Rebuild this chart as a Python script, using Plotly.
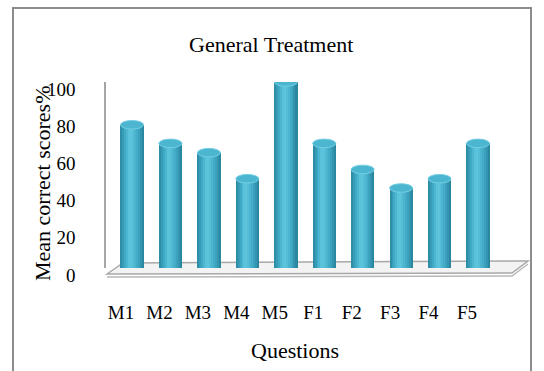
import plotly.graph_objects as go

# Mean correct scores (%) per question
questions = ["M1", "M2", "M3", "M4", "M5", "F1", "F2", "F3", "F4", "F5"]
scores = [77, 67, 62, 48, 100, 67, 53, 43, 48, 67]
y_ticks = [0, 20, 40, 60, 80, 100]

W, H = 544, 371
L, R, T, B = 106, 512, 82, 268          # plot area in pixels
SERIF = "Liberation Serif, Times New Roman, serif"

def px_x(p):
    return (p - L) / (R - L)

def px_y(p):
    return (B - p) / (B - T)

# colour profile across a cylinder, left edge -> right edge
shade = ["#2E8DA7", "#379CB7", "#40A9C5", "#4DB6D1", "#5AC1DA", "#5EC4DD",
         "#56BDD7", "#4CB4CF", "#44ACC8", "#3CA1BD", "#3395B0", "#2B86A0"]
bar_w = 0.6
stripe = bar_w / len(shade)

fig = go.Figure()
for k, col in enumerate(shade):
    fig.add_trace(go.Bar(
        x=questions, y=scores,
        width=stripe * 1.15, offset=-bar_w / 2 + k * stripe,
        marker=dict(color=col, line=dict(width=0)),
        hoverinfo="skip", showlegend=False,
    ))

shapes = []

def pt(x, y):
    return f"{px_x(x):.5f},{px_y(y):.5f}"

# floor slab
floor = f"M {pt(107, 274)} L {pt(123, 263)} L {pt(528, 261)} L {pt(512, 273)} Z"
shapes.append(dict(type="path", path=floor, xref="paper", yref="paper",
                   fillcolor="#F3F3F3", line=dict(color="#A8A8A8", width=1.5),
                   layer="below"))
slab = f"M {pt(107, 277)} L {pt(512, 276)} L {pt(528, 264)}"
shapes.append(dict(type="path", path=slab, xref="paper", yref="paper",
                   line=dict(color="#B8B8B8", width=1.5), layer="below"))

cap = 2.3   # half-height of the elliptical ends, in data units
for i, v in enumerate(scores):
    # rounded base
    shapes.append(dict(type="circle", xref="x", yref="y",
                       x0=i - bar_w / 2, x1=i + bar_w / 2, y0=-cap, y1=cap,
                       fillcolor="#3AA2BE", line=dict(width=0), layer="below"))
    # top cap
    shapes.append(dict(type="circle", xref="x", yref="y",
                       x0=i - bar_w / 2, x1=i + bar_w / 2, y0=v - cap, y1=v + cap,
                       fillcolor="#4CB5D0", line=dict(color="#74CFE4", width=1),
                       layer="above"))

# outer frame
shapes.append(dict(type="rect", xref="paper", yref="paper",
                   x0=px_x(13), x1=px_x(531), y0=px_y(8), y1=px_y(380),
                   line=dict(color="#8C8C8C", width=2), fillcolor="rgba(0,0,0,0)"))

def label(text, x, y, size, angle=0):
    return dict(text=text, x=px_x(x), y=px_y(y), xref="paper", yref="paper",
                xanchor="center", yanchor="middle", showarrow=False,
                textangle=angle, font=dict(family=SERIF, size=size, color="#000000"))

annotations = [
    label("General Treatment", 271, 45, 22),
    label("Mean correct scores%", 42, 184, 22, -90),
    label("Questions", 295, 350, 22),
]

fig.update_layout(
    width=W, height=H, autosize=False,
    margin=dict(l=L, r=W - R, t=T, b=H - B, pad=0),
    paper_bgcolor="white", plot_bgcolor="rgba(0,0,0,0)",
    barmode="overlay", bargap=0,
    shapes=shapes, annotations=annotations, showlegend=False,
    xaxis=dict(range=[-(132 - L) / 38.44, 9 + (R - 478) / 38.44],
               showgrid=False, zeroline=False, showline=False, ticks="",
               tickfont=dict(family=SERIF, size=19, color="#000000"),
               ticklabelstandoff=31, ticklabelshift=-11),
    yaxis=dict(range=[0, 100], tickvals=y_ticks, showgrid=False, zeroline=False,
               showline=True, linecolor="#A6A6A6", linewidth=1.5, ticks="",
               tickfont=dict(family=SERIF, size=19, color="#000000"),
               ticklabelstandoff=25, ticklabelshift=7),
)

fig.write_html("out.html")
